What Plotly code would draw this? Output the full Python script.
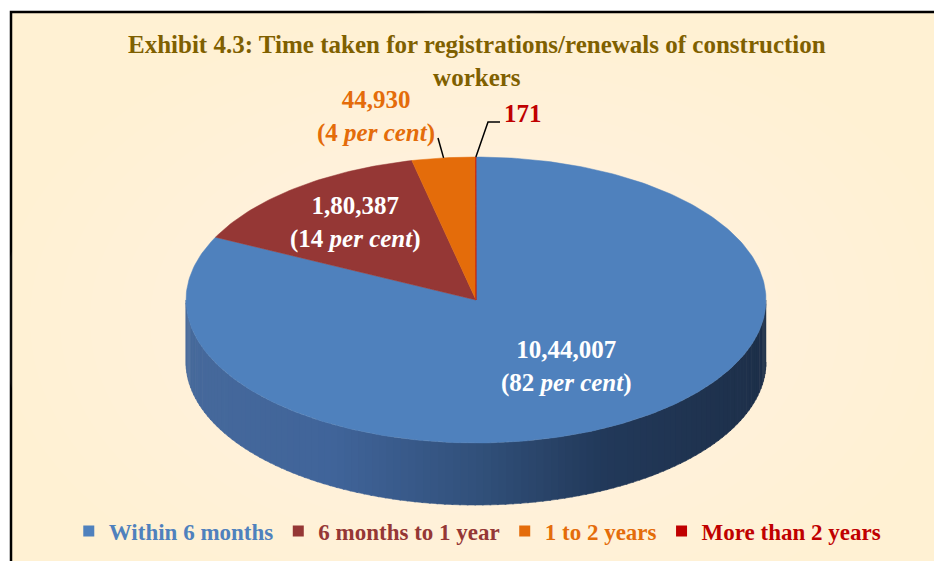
import math
import plotly.graph_objects as go

# ---------------- data ----------------
categories = ["Within 6 months", "6 months to 1 year", "1 to 2 years", "More than 2 years"]
values = [1044007, 180387, 44930, 171]
colors = ["#4f81bd", "#953735", "#e46c0a", "#c00000"]
title_text = "Exhibit 4.3: Time taken for registrations/renewals of construction<br>workers"

# ---------------- geometry (pixel space) ----------------
W, H = 934, 561
CX, CY, RX, RY, DEPTH = 476, 300, 290, 143, 62
FONT = "Liberation Serif"


def indian(n):
    s = str(n)
    if len(s) <= 3:
        return s
    head, tail = s[:-3], s[-3:]
    parts = []
    while len(head) > 2:
        parts.insert(0, head[-2:])
        head = head[:-2]
    if head:
        parts.insert(0, head)
    return ",".join(parts + [tail])


def pt(theta_deg, dy=0.0, r=1.0):
    t = math.radians(theta_deg)
    return CX + r * RX * math.sin(t), CY - r * RY * math.cos(t) + dy


def lerp_col(stops, x):
    for (x0, c0), (x1, c1) in zip(stops, stops[1:]):
        if x0 <= x <= x1:
            f = (x - x0) / (x1 - x0)
            a = [int(c0[i:i + 2], 16) for i in (1, 3, 5)]
            b = [int(c1[i:i + 2], 16) for i in (1, 3, 5)]
            return "rgb(%d,%d,%d)" % tuple(round(a[k] + (b[k] - a[k]) * f) for k in range(3))
    return stops[-1][1] if x > stops[-1][0] else stops[0][1]


total = sum(values)
angles = []
acc = 0.0
for v in values:
    a0 = acc / total * 360
    acc += v
    angles.append((a0, acc / total * 360))

fig = go.Figure()

# side walls (front half, theta 90..270), gradient strips
side_stops = {
    0: [(185, "#46699b"), (330, "#40649a"), (480, "#31507a"), (600, "#22395a"), (766, "#1d2f49")],
    1: [(185, "#6e2826"), (766, "#4a1b1a")],
    2: [(185, "#a84f08"), (766, "#7a3906")],
    3: [(185, "#8e0000"), (766, "#600000")],
}
for i, (a0, a1) in enumerate(angles):
    s0, s1 = max(a0, 90), min(a1, 270)
    if s1 <= s0:
        continue
    n = max(2, int((s1 - s0) / 1.5))
    for k in range(n):
        t0 = s0 + (s1 - s0) * k / n
        t1 = min(s0 + (s1 - s0) * (k + 1) / n + 0.3, s1)
        xs, ys = [], []
        for j in range(4):
            x, y = pt(t0 + (t1 - t0) * j / 3)
            xs.append(x); ys.append(y)
        for j in range(3, -1, -1):
            x, y = pt(t0 + (t1 - t0) * j / 3, DEPTH)
            xs.append(x); ys.append(y)
        xm = pt((t0 + t1) / 2)[0]
        col = lerp_col(side_stops.get(i, side_stops[0]), xm)
        fig.add_trace(go.Scatter(x=xs, y=ys, mode="lines", fill="toself",
                                 fillcolor=col, line=dict(width=0.6, color=col),
                                 hoverinfo="skip", showlegend=False))

# top faces
for i, (a0, a1) in enumerate(angles):
    n = max(2, int((a1 - a0) / 1.0))
    xs, ys = [CX], [CY]
    for k in range(n + 1):
        x, y = pt(a0 + (a1 - a0) * k / n)
        xs.append(x); ys.append(y)
    xs.append(CX); ys.append(CY)
    fig.add_trace(go.Scatter(x=xs, y=ys, mode="lines", fill="toself",
                             fillcolor=colors[i], line=dict(width=0.5, color=colors[i]),
                             hoverinfo="text", text=categories[i], showlegend=False))

# legend entries
for c, name in zip(colors, categories):
    fig.add_trace(go.Scatter(x=[None], y=[None], mode="markers",
                             marker=dict(symbol="square", size=11, color=c),
                             name=f"<span style='color:{c}'>{name}</span>"))

pct = [round(v / total * 100) for v in values]

# title
fig.add_annotation(x=477, y=61, text=title_text, showarrow=False, yanchor="middle",
                   font=dict(family=FONT, size=25, color="#7f6000", weight="bold"))

# data labels
lab_font = dict(family=FONT, size=25, color="white", weight="bold")
fig.add_annotation(x=566, y=366, text=f"{indian(values[0])}<br>({pct[0]} <i>per cent</i>)",
                   showarrow=False, font=lab_font)
fig.add_annotation(x=355, y=222, text=f"{indian(values[1])}<br>({pct[1]} <i>per cent</i>)",
                   showarrow=False, font=lab_font)
fig.add_annotation(x=376, y=116, text=f"{indian(values[2])}<br>({pct[2]} <i>per cent</i>)",
                   showarrow=False, font=dict(family=FONT, size=25, color=colors[2], weight="bold"))
fig.add_annotation(x=502, y=113, text=indian(values[3]), showarrow=False, xanchor="left",
                   font=dict(family=FONT, size=25, color=colors[3], weight="bold"))

# leader lines
mo = pt((angles[2][0] + angles[2][1]) / 2)
fig.add_shape(type="line", x0=mo[0], y0=mo[1], x1=438, y1=138, line=dict(color="black", width=1.5))
mr = pt((angles[3][0] + angles[3][1]) / 2)
fig.add_trace(go.Scatter(x=[mr[0], 488, 500], y=[mr[1], 122, 122], mode="lines",
                         line=dict(color="black", width=1.5), hoverinfo="skip", showlegend=False))

# background panel with soft radial glow
fig.add_shape(type="rect", xref="x", yref="y", x0=11, y0=12, x1=945, y1=575,
              fillcolor="#fff1d3", line=dict(color="black", width=2.5), layer="below")
for k in range(16):
    f = 1 - k / 16
    fig.add_shape(type="circle", xref="x", yref="y",
                  x0=480 - 480 * f, x1=480 + 480 * f, y0=320 - 310 * f, y1=320 + 310 * f,
                  fillcolor="rgba(255,255,255,0.045)", line=dict(width=0), layer="below")

fig.update_layout(
    width=W, height=H, autosize=False,
    margin=dict(l=0, r=0, t=0, b=0),
    paper_bgcolor="white", plot_bgcolor="rgba(0,0,0,0)",
    xaxis=dict(range=[0, W], visible=False, fixedrange=True),
    yaxis=dict(range=[H, 0], visible=False, fixedrange=True),
    showlegend=True,
    legend=dict(orientation="h", x=0.511, xanchor="center", y=1 - 531 / H, yanchor="middle",
                font=dict(family=FONT, size=23, weight="bold"), bgcolor="rgba(0,0,0,0)",
                itemwidth=30, tracegroupgap=0),
)

fig.write_html("out.html")
